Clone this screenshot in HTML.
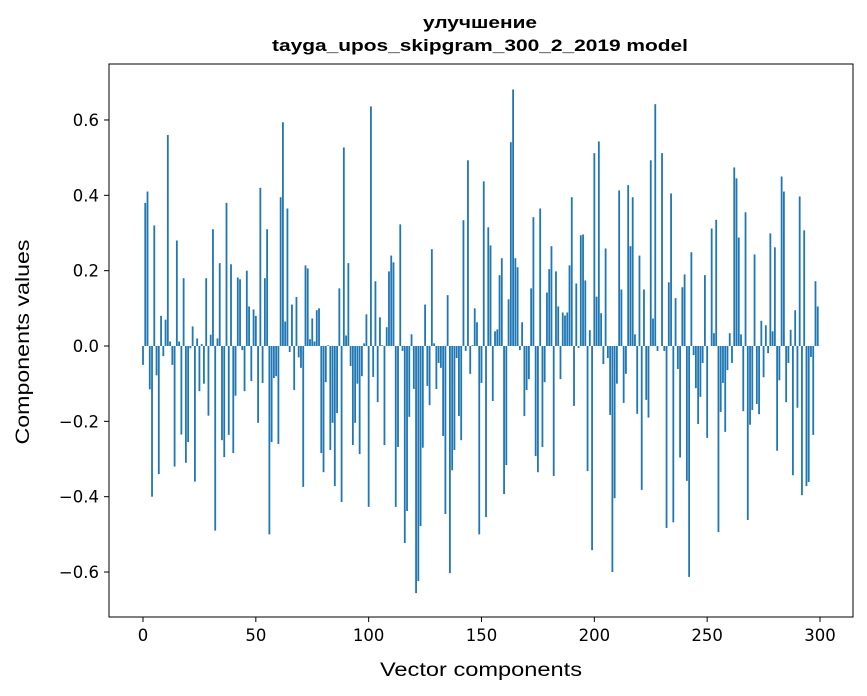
<!DOCTYPE html>
<html><head><meta charset="utf-8"><style>
html,body{margin:0;padding:0;background:#fff;}
svg{display:block;font-family:"DejaVu Sans","Liberation Sans","Noto Sans CJK SC",sans-serif;}
.lib{font-family:"Liberation Sans","Noto Sans CJK SC",sans-serif;}
</style></head><body>
<svg id="chart" width="867" height="696" viewBox="0 0 867 696">
<rect width="867" height="696" fill="#fff"/>
<text class="lib" x="480" y="28" text-anchor="middle" font-size="17" font-weight="bold" textLength="114" lengthAdjust="spacingAndGlyphs">улучшение</text>
<text class="lib" x="480" y="51" text-anchor="middle" font-size="17" font-weight="bold" textLength="416" lengthAdjust="spacingAndGlyphs">tayga_upos_skipgram_300_2_2019 model</text>
<g id="bars"></g>
<g id="yticks"></g>
<g id="xticks"></g>
<rect x="109" y="64" width="744" height="553" fill="none" stroke="#000" stroke-width="1"/>
<text class="lib" x="481" y="676" text-anchor="middle" font-size="19" textLength="202" lengthAdjust="spacingAndGlyphs">Vector components</text>
<text class="lib" transform="translate(29,342) rotate(-90)" text-anchor="middle" font-size="19" textLength="205" lengthAdjust="spacingAndGlyphs">Components values</text>
</svg>
<script>
const values = [
-0.05,0.38,0.41,-0.115,-0.40,0.32,-0.078,-0.34,0.08,-0.027,
0.07,0.56,0.012,-0.05,-0.32,0.28,0.012,-0.235,0.18,-0.31,
-0.255,-0.006,0.052,-0.36,0.02,-0.12,0.005,-0.1,0.18,-0.185,
0.03,0.31,-0.49,0.02,0.22,-0.25,-0.295,0.38,-0.236,0.217,
-0.284,-0.132,0.182,0.177,-0.011,-0.12,0.2,0.105,-0.093,0.097,
0.08,-0.204,0.42,-0.098,0.18,0.31,-0.5,-0.255,-0.085,-0.08,
-0.26,0.395,0.594,0.065,0.365,-0.016,0.11,-0.117,0.13,-0.03,
-0.058,-0.374,0.214,0.206,0.018,0.073,0.012,0.095,0.1,-0.284,
-0.335,-0.096,0.002,-0.276,-0.204,-0.372,-0.178,0.153,-0.414,0.527,
0.028,0.22,-0.053,-0.263,-0.204,-0.1,-0.287,-0.08,0.007,0.084,
-0.427,0.636,-0.082,0.172,-0.149,0.076,0.002,-0.263,0.05,0.198,
0.24,0.222,-0.427,-0.268,0.323,-0.013,-0.523,-0.438,-0.188,0.031,
-0.114,-0.656,-0.624,-0.478,-0.27,0.11,-0.106,-0.157,0.257,0.007,
-0.114,-0.045,-0.058,-0.239,-0.446,0.135,-0.603,-0.33,-0.276,-0.032,
-0.186,-0.25,0.334,-0.013,0.493,-0.074,0.002,0.1,0.063,-0.5,
-0.098,0.437,-0.454,0.315,0.267,-0.146,0.039,0.044,0.188,0.233,
-0.393,-0.316,0.124,0.541,0.681,0.233,0.209,-0.011,0.063,-0.186,
-0.117,-0.088,0.153,0.342,-0.292,-0.335,0.365,-0.268,-0.096,0.142,
0.204,0.265,-0.345,0.198,0.105,-0.088,0.089,0.081,0.089,0.214,
0.395,-0.159,0.166,-0.005,0.294,0.296,0.174,-0.332,0.042,-0.542,
0.512,0.131,0.543,0.087,-0.048,0.259,-0.032,-0.183,-0.6,-0.404,
-0.1,0.413,0.15,-0.151,-0.074,0.427,0.265,0.395,0.031,-0.18,
0.24,-0.382,0.15,-0.143,-0.19,0.493,0.073,0.642,-0.013,0.0,
0.512,-0.013,-0.483,0.169,0.405,-0.468,0.127,-0.061,-0.296,0.156,
0.19,-0.358,-0.613,0.249,-0.024,-0.112,-0.207,-0.135,-0.045,0.188,
-0.244,0.0,0.312,0.034,0.335,-0.494,-0.175,-0.098,-0.228,-0.064,
0.034,-0.045,0.474,0.445,0.288,0.031,-0.173,0.355,-0.462,-0.209,
-0.17,0.243,-0.154,-0.181,0.067,-0.083,0.055,-0.019,0.299,0.039,
0.262,-0.278,-0.091,0.45,0.41,-0.149,-0.045,0.043,-0.343,0.095,
-0.164,0.397,-0.396,0.307,-0.372,-0.361,-0.029,-0.236,0.172,0.105
];
const yTickValues = [-0.6,-0.4,-0.2,0.0,0.2,0.4,0.6];
const yTickLabels = ["\u22120.6","\u22120.4","\u22120.2","0.0","0.2","0.4","0.6"];
const xTickValues = [0,50,100,150,200,250,300];
const xTickLabels = ["0","50","100","150","200","250","300"];

const NS="http://www.w3.org/2000/svg";
function xScale(i){return 143 + i*(820-143)/300;}
function yScale(v){return 346 - v*376.7;}
const barW = 0.8*(820-143)/300;

const gb=document.getElementById('bars');
values.forEach((v,i)=>{
  const r=document.createElementNS(NS,'rect');
  const y0=yScale(0), y1=yScale(v);
  r.setAttribute('x',xScale(i)-barW/2);
  r.setAttribute('y',Math.min(y0,y1));
  r.setAttribute('width',barW);
  r.setAttribute('height',Math.abs(y1-y0));
  r.setAttribute('fill','#1f77b4');
  
  
  gb.appendChild(r);
});

const gy=document.getElementById('yticks');
yTickValues.forEach((v,k)=>{
  const y=yScale(v);
  const l=document.createElementNS(NS,'line');
  l.setAttribute('x1',104);l.setAttribute('x2',109);
  l.setAttribute('y1',y);l.setAttribute('y2',y);
  l.setAttribute('stroke','#000');
  
  
  gy.appendChild(l);
  const t=document.createElementNS(NS,'text');
  t.setAttribute('x',99);t.setAttribute('y',y+6);
  t.setAttribute('text-anchor','end');t.setAttribute('font-size','16.5');
  t.textContent=yTickLabels[k];
  
  
  gy.appendChild(t);
});

const gx=document.getElementById('xticks');
xTickValues.forEach((v,k)=>{
  const x=xScale(v);
  const l=document.createElementNS(NS,'line');
  l.setAttribute('x1',x);l.setAttribute('x2',x);
  l.setAttribute('y1',617);l.setAttribute('y2',622);
  l.setAttribute('stroke','#000');
  
  
  gx.appendChild(l);
  const t=document.createElementNS(NS,'text');
  t.setAttribute('x',x);t.setAttribute('y',641);
  t.setAttribute('text-anchor','middle');t.setAttribute('font-size','16.5');
  t.textContent=xTickLabels[k];
  
  
  gx.appendChild(t);
});
</script>
</body></html>
